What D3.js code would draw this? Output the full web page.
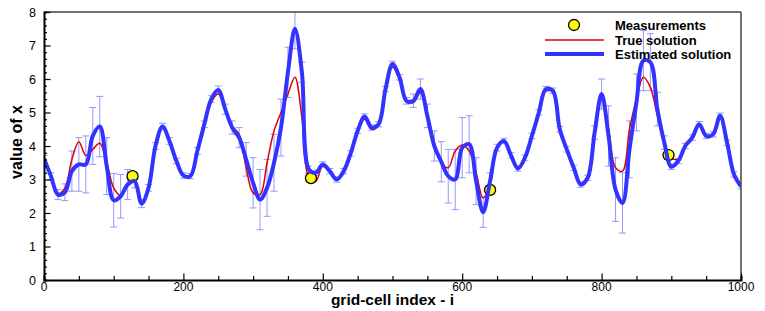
<!DOCTYPE html>
<html>
<head>
<meta charset="utf-8">
<script src="https://cdn.jsdelivr.net/npm/d3@7"></script>
<style>
  body { margin: 0; background: #fff; }
  text { font-family: "Liberation Sans", Arial, sans-serif; }
</style>
</head>
<body>
<svg id="chart" width="765" height="311"></svg>
<script>
// grid-cell index of every sample
const gridIdx = [
  0, 10, 20, 30, 40, 50, 60, 70, 80, 90,
  100, 110, 120, 130, 140, 150, 160, 170, 180, 190,
  200, 210, 220, 230, 240, 250, 260, 270, 280, 290,
  300, 310, 320, 330, 340, 350, 360, 370, 380, 390,
  400, 410, 420, 430, 440, 450, 460, 470, 480, 490,
  500, 510, 520, 530, 540, 550, 560, 570, 580, 590,
  600, 610, 620, 630, 640, 650, 660, 670, 680, 690,
  700, 710, 720, 730, 740, 750, 760, 770, 780, 790,
  800, 810, 820, 830, 840, 850, 860, 870, 880, 890,
  900, 910, 920, 930, 940, 950, 960, 970, 980, 990, 1000
];

// estimated solution
const estimated = [
  3.62, 3.10, 2.55, 2.62, 3.25, 3.45, 3.45, 4.30, 4.58, 3.40,
  2.38, 2.50, 2.85, 2.95, 2.28, 2.75, 4.00, 4.58, 4.15, 3.55,
  3.12, 3.10, 3.85, 4.65, 5.40, 5.67, 5.10, 4.55, 4.25, 3.60,
  2.90, 2.40, 2.75, 3.50, 4.55, 6.20, 7.50, 6.20, 3.30, 3.20,
  3.45, 3.25, 3.00, 3.25, 3.78, 4.45, 4.88, 4.55, 4.65, 5.70,
  6.45, 6.05, 5.35, 5.35, 5.70, 4.90, 4.00, 3.53, 3.10, 3.00,
  3.95, 4.05, 2.95, 2.02, 2.95, 3.95, 4.15, 3.72, 3.33, 3.65,
  4.30, 5.00, 5.70, 5.65, 4.50, 3.90, 3.35, 2.85, 3.05, 4.40,
  5.55, 4.30, 2.70, 2.30, 3.90, 5.30, 6.55, 6.50, 5.10, 4.10,
  3.38, 3.55, 4.00, 4.25, 4.65, 4.30, 4.35, 4.90, 4.10, 3.15, 2.80
];

// true solution
const trueSol = [
  3.62, 3.10, 2.58, 2.75, 3.60, 4.13, 3.72, 3.90, 4.08, 3.50,
  2.75, 2.52, 2.80, 2.95, 2.25, 2.70, 4.00, 4.58, 4.15, 3.55,
  3.10, 3.08, 3.85, 4.60, 5.30, 5.55, 5.10, 4.60, 4.35, 3.35,
  2.60, 2.55, 3.50, 4.45, 5.00, 5.55, 6.05, 4.85, 3.05, 2.95,
  3.42, 3.25, 2.98, 3.22, 3.75, 4.40, 4.80, 4.50, 4.62, 5.65,
  6.35, 6.00, 5.33, 5.30, 5.60, 4.95, 4.10, 3.50, 3.35, 3.85,
  4.03, 3.85, 3.20, 2.45, 2.85, 3.95, 4.12, 3.72, 3.30, 3.65,
  4.30, 5.00, 5.65, 5.60, 4.50, 3.90, 3.35, 2.85, 3.05, 4.40,
  5.50, 4.50, 3.35, 3.25, 4.50, 5.40, 6.05, 5.75, 4.90, 4.10,
  3.65, 3.60, 4.00, 4.22, 4.62, 4.28, 4.35, 4.85, 4.10, 3.15, 2.80
];

// standard deviation of the estimate (error bar half-length)
const stdDev = [
  0.10, 0.10, 0.15, 0.25, 0.60, 0.80, 0.85, 0.85, 0.90, 0.85,
  0.80, 0.65, 0.45, 0.20, 0.12, 0.10, 0.10, 0.10, 0.10, 0.08,
  0.08, 0.08, 0.10, 0.10, 0.10, 0.12, 0.15, 0.20, 0.30, 0.50,
  0.75, 0.90, 0.85, 0.85, 0.85, 0.75, 0.60, 0.30, 0.10, 0.08,
  0.08, 0.08, 0.08, 0.08, 0.08, 0.08, 0.08, 0.08, 0.08, 0.08,
  0.08, 0.08, 0.10, 0.20, 0.30, 0.35, 0.45, 0.60, 0.80, 0.90,
  0.90, 0.85, 0.70, 0.45, 0.25, 0.10, 0.08, 0.08, 0.08, 0.08,
  0.08, 0.08, 0.08, 0.08, 0.08, 0.08, 0.08, 0.08, 0.08, 0.20,
  0.45, 0.90, 0.95, 0.90, 0.85, 0.85, 0.90, 0.85, 0.50, 0.20,
  0.08, 0.08, 0.08, 0.08, 0.08, 0.08, 0.08, 0.08, 0.08, 0.08, 0.08
];

// measurements
const measIdx = [127, 383, 640, 896];
const measVal = [3.10, 3.04, 2.69, 3.73];

const xTicks = [0, 200, 400, 600, 800, 1000];
const yTicks = [0, 1, 2, 3, 4, 5, 6, 7, 8];

const svg = d3.select("#chart");
const mLeft = 44, mRight = 741, mTop = 12, mBottom = 280;

const x = d3.scaleLinear().domain([0, 1000]).range([mLeft, mRight]);
const y = d3.scaleLinear().domain([0, 8]).range([mBottom, mTop]);

svg.append("defs").append("clipPath").attr("id", "clip")
  .append("rect")
  .attr("x", mLeft).attr("y", mTop)
  .attr("width", mRight - mLeft).attr("height", mBottom - mTop);

const plot = svg.append("g").attr("clip-path", "url(#clip)");

const rows = gridIdx.map((g, i) => ({ g: g, est: estimated[i], tru: trueSol[i], sd: stdDev[i] }));

// error bars
const bars = plot.append("g")
  .attr("stroke", "#8585ff")
  .attr("stroke-opacity", 0.85)
  .attr("stroke-width", 1);

bars.selectAll(".v")
  .data(rows)
  .enter()
  .append("line")
  .attr("x1", d => x(d.g)).attr("x2", d => x(d.g))
  .attr("y1", d => y(d.est - d.sd)).attr("y2", d => y(d.est + d.sd));

bars.selectAll(".capT")
  .data(rows)
  .enter()
  .append("line")
  .attr("x1", d => x(d.g) - 3.5).attr("x2", d => x(d.g) + 3.5)
  .attr("y1", d => y(d.est + d.sd)).attr("y2", d => y(d.est + d.sd));

bars.selectAll(".capB")
  .data(rows)
  .enter()
  .append("line")
  .attr("x1", d => x(d.g) - 3.5).attr("x2", d => x(d.g) + 3.5)
  .attr("y1", d => y(d.est - d.sd)).attr("y2", d => y(d.est - d.sd));

const curve = d3.curveCatmullRom.alpha(0.5);

// true solution
plot.append("path")
  .datum(rows)
  .attr("fill", "none")
  .attr("stroke", "#dd0000")
  .attr("stroke-width", 1.5)
  .attr("d", d3.line().x(d => x(d.g)).y(d => y(d.tru)).curve(curve));

// measurements
plot.selectAll(".meas")
  .data(measIdx.map((g, i) => ({ g: g, v: measVal[i] })))
  .enter()
  .append("circle")
  .attr("cx", d => x(d.g))
  .attr("cy", d => y(d.v))
  .attr("r", 5.5)
  .attr("fill", "#ffff00")
  .attr("stroke", "#000")
  .attr("stroke-width", 1.3);

// estimated solution
plot.append("path")
  .datum(rows)
  .attr("fill", "none")
  .attr("stroke", "#3333ff")
  .attr("stroke-width", 4)
  .attr("stroke-linejoin", "round")
  .attr("d", d3.line().x(d => x(d.g)).y(d => y(d.est)).curve(curve));

// frame
svg.append("line").attr("x1", mLeft).attr("x2", mRight).attr("y1", mTop).attr("y2", mTop)
  .attr("stroke", "#444").attr("stroke-width", 1.5);
svg.append("line").attr("x1", mRight).attr("x2", mRight).attr("y1", mTop).attr("y2", mBottom)
  .attr("stroke", "#444").attr("stroke-width", 1.5);

// axes with inward ticks
const xAxis = svg.append("g").attr("transform", `translate(0,${mBottom})`);
xAxis.call(d3.axisTop(x).tickValues(d3.range(0, 1001, 50)).tickSize(4).tickFormat(""));
xAxis.call(g => g.selectAll(".tick line").filter(d => d % 200 === 0).attr("y2", -6.5));
xAxis.select(".domain").attr("stroke-width", 2);
xAxis.selectAll(".tick line").attr("stroke-width", 1.2);
svg.selectAll(".xlab")
  .data(xTicks)
  .enter()
  .append("text")
  .attr("x", d => x(d))
  .attr("y", mBottom + 10.5)
  .attr("text-anchor", "middle")
  .attr("font-size", 12)
  .text(d => d);

const yAxis = svg.append("g").attr("transform", `translate(${mLeft},0)`);
yAxis.call(d3.axisRight(y).tickValues(d3.range(0, 8.001, 0.2)).tickSize(3).tickFormat(""));
yAxis.call(g => g.selectAll(".tick line").filter(d => Math.abs(d - Math.round(d)) < 1e-6).attr("x2", 6.5));
yAxis.select(".domain").attr("stroke-width", 2);
yAxis.selectAll(".tick line").attr("stroke-width", 1.2);
svg.selectAll(".ylab")
  .data(yTicks)
  .enter()
  .append("text")
  .attr("x", 36)
  .attr("y", d => y(d) + 4.5)
  .attr("text-anchor", "end")
  .attr("font-size", 12.5)
  .text(d => d);

// axis titles
svg.append("text")
  .attr("x", (mLeft + mRight) / 2)
  .attr("y", 305)
  .attr("text-anchor", "middle")
  .attr("font-size", 15.5)
  .attr("font-weight", "bold")
  .text("grid-cell index - i");

svg.append("text")
  .attr("transform", "translate(22,142) rotate(-90)")
  .attr("text-anchor", "middle")
  .attr("font-size", 16)
  .attr("font-weight", "bold")
  .text("value of x");

// legend
const legend = svg.append("g");
legend.append("circle").attr("cx", 574).attr("cy", 25).attr("r", 5.5)
  .attr("fill", "#ffff00").attr("stroke", "#000").attr("stroke-width", 1.3);
legend.append("line").attr("x1", 545).attr("x2", 604).attr("y1", 40).attr("y2", 40)
  .attr("stroke", "#dd0000").attr("stroke-width", 1.5);
legend.append("line").attr("x1", 545).attr("x2", 604).attr("y1", 54).attr("y2", 54)
  .attr("stroke", "#3333ff").attr("stroke-width", 4);
legend.selectAll(".lt")
  .data(["Measurements", "True solution", "Estimated solution"])
  .enter()
  .append("text")
  .attr("x", 615)
  .attr("y", (d, i) => 30 + i * 14.5)
  .attr("font-size", 13)
  .attr("font-weight", "bold")
  .text(d => d);
</script>
</body>
</html>
